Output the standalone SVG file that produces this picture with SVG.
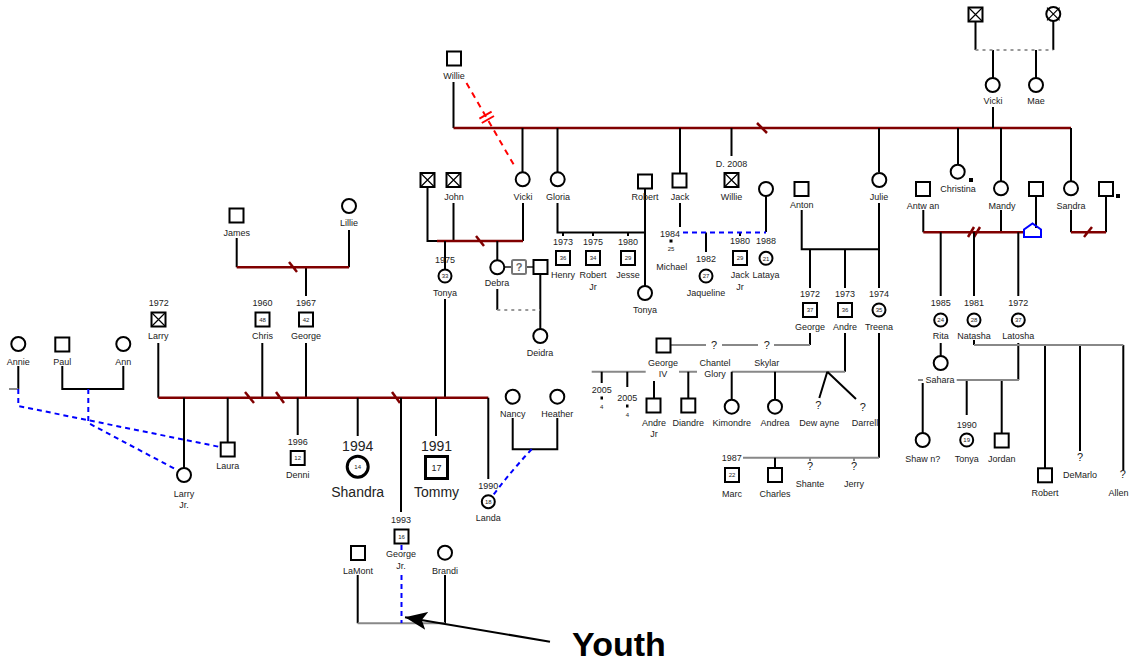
<svg xmlns="http://www.w3.org/2000/svg" width="1130" height="665" viewBox="0 0 1130 665">
<defs>
<style>
.k{stroke:#000;stroke-width:2;fill:none}
.rd{stroke:#800000;stroke-width:2.5;fill:none}
.gy{stroke:#888;stroke-width:2;fill:none}
.gd{stroke:#999;stroke-width:2;fill:none;stroke-dasharray:3,4}
.bd{stroke:#0000ff;stroke-width:2;fill:none;stroke-dasharray:5,4}
.s{fill:#fff;stroke:#000;stroke-width:2}
.x{stroke:#000;stroke-width:1.2}
text{font-family:"Liberation Sans",Arial,sans-serif;font-size:9px;text-anchor:middle;fill:#222}
.a{font-size:6px}
.big{font-size:14px}
</style>
<marker id="ah" markerUnits="userSpaceOnUse" markerWidth="24" markerHeight="18" refX="22" refY="9" orient="auto">
<path d="M0,0 L22,9 L0,18 L5,9 Z" fill="#000"/>
</marker>
</defs>
<rect width="1130" height="665" fill="#fff"/>
<g id="connectors">
<path class="k" d="M453.5,82V128"/>
<path class="rd" d="M453.5,128H1071"/>
<path class="rd" d="M757,123L767,133"/>
<path class="k" d="M522.5,128V172M557.5,128V172M680,128V173M731.5,128V156M879,128V172M958,128V164M1001,128V181M1071,128V181M993,107V128"/>
<path d="M466.5,83L514.5,166" stroke="#f00" stroke-width="2" stroke-dasharray="6,5" fill="none"/>
<path d="M479.4,118.6L491.6,111.6M481.8,123L494,116" stroke="#f00" stroke-width="2"/>
<path class="k" d="M975.5,22V50M1053.3,21V50M993,50V78M1036,50V78"/>
<path class="gd" d="M975.5,50H1053.3"/>
<path class="k" d="M427.5,188V241H437M453.5,203V241M523,203V241"/>
<path class="rd" d="M437,241H523M476,236L484,246"/>
<path class="k" d="M445,241V269M445,299V397.7M497.3,241V260M497.3,289V310M540.3,274V329"/>
<path class="gd" d="M497.3,310H540"/>
<path stroke="#555" stroke-width="2" d="M504,267H512M526,267H533"/>
<path class="k" d="M557.5,203V232.5H645M645,188V286M563,232.5V236M593,232.5V236M628,232.5V236"/>
<path class="k" d="M680,203V227M766,196V232M706,232.5V252M740,232.5V236"/>
<path class="bd" d="M683,232.5H766"/>
<path class="k" d="M801.7,210V249.3H879M879,203V288M810,249.3V288M845,249.3V288"/>
<path class="k" d="M810,333V345M845,333V371.7M879,333V457.7"/>
<path class="gy" d="M671,345H706M722,345H758M774,345H810"/>
<path class="gy" d="M591.7,371.7H645.7M679,371.7H697M731.7,371.7H845"/>
<path class="k" d="M601.7,371.7V383M627.3,371.7V387M654,381V398M688.3,371.7V398M731.7,371.7V399M775,371.7V399M827.3,371.7L819.3,398M827.3,371.7L856,399"/>
<path class="gy" d="M743,457.7H879M810,457.7V461M854,457.7V461"/>
<path class="k" d="M775,457.7V468"/>
<path class="k" d="M923.3,210V232.3M1001,210V232.3M1036,197V228M1071,210V232.3M1106,197V232.3"/>
<path class="rd" d="M923.3,232.3H1024M1071,232.3H1106M968,237L974,227M974,237L980,227M1084,237L1092,227"/>
<path d="M1024,237V229.5L1032.5,223.5L1041,229.5V237Z" fill="none" stroke="#0000ff" stroke-width="2"/>
<path class="k" d="M940.7,232.3V296M974,232.3V296M1018.3,232.3V296"/>
<path class="k" d="M940.7,343V356M1018.3,343V380M922.7,383V433M966.7,380V415M1001.7,380V433M1045,345V468M1080,345V451M1123.3,345V470M974,340V345"/>
<path class="gy" d="M956.7,380H1019M918,380H923M974,345H1123.3"/>
<path class="k" d="M236.7,238V267.3M349,230V267.3M306,267.3V296"/>
<path class="rd" d="M236.7,267.3H349M289,262L297,272"/>
<path class="k" d="M158.3,343V397.7M262.3,343V397.7M306,343V397.7"/>
<path class="rd" d="M158.3,397.7H488.3M245,392L254,403M276,392L284,403M392,392L400,403"/>
<path class="k" d="M184,397.7V468M227.7,397.7V442M297.7,397.7V435M357.7,397.7V436M401,397.7V512M436,397.7V436M488.3,397.7V479"/>
<path class="k" d="M62.3,366V389H123.3V366M18.3,366V389"/>
<path class="gy" d="M9,389H18.3"/>
<path class="bd" d="M18.3,389V406L220,447M88.3,389V423L177,470"/>
<path class="k" d="M512.7,418V449.3H557.3V418"/>
<path class="bd" d="M531.7,449.3Q512,470 493.3,495"/>
<path class="k" d="M357.7,575V623.3M445,575V623.3"/>
<path class="gy" d="M357.7,623.3H445"/>
<path class="bd" d="M401.5,545V551M401.5,575V623"/>
<path d="M550,641.7L405,617.3" stroke="#000" stroke-width="2" marker-end="url(#ah)"/>
</g>
<g id="willie-top"><rect class="s" x="447" y="51.5" width="14" height="14"/><text x="454" y="79">Willie</text></g>
<g id="vicki-a"><circle class="s" cx="522.7" cy="179.3" r="7"/><text x="523" y="200">Vicki</text></g>
<g id="gloria"><circle class="s" cx="557.7" cy="179.3" r="7"/><text x="558" y="200">Gloria</text></g>
<g id="jack"><rect class="s" x="672.5" y="173.5" width="14" height="14"/><text x="680" y="200">Jack</text></g>
<g id="willie-d"><text x="731.5" y="166.5">D. 2008</text><rect class="s" x="724.5" y="173" width="14" height="14"/><path class="x" d="M724.5,173L738.5,187M738.5,173L724.5,187"/><text x="731.5" y="200">Willie</text></g>
<g id="julie"><circle class="s" cx="879.3" cy="180" r="7"/><text x="879" y="200">Julie</text></g>
<g id="christina"><circle class="s" cx="957.7" cy="171.7" r="7"/><rect x="969" y="178" width="4" height="4" fill="#000"/><text x="958" y="191.5">Christina</text></g>
<g id="mandy"><circle class="s" cx="1001" cy="188.3" r="7"/><text x="1002" y="209">Mandy</text></g>
<g id="sandra"><circle class="s" cx="1071" cy="188.3" r="7"/><text x="1071" y="209">Sandra</text></g>
<g id="vicki-b"><circle class="s" cx="992.7" cy="85" r="7"/><text x="993" y="104">Vicki</text></g>
<g id="mae"><circle class="s" cx="1036" cy="85" r="7"/><text x="1036" y="104">Mae</text></g>
<g id="ggf"><rect class="s" x="968.5" y="7.5" width="14" height="14"/><path class="x" d="M968.5,7.5L982.5,21.5M982.5,7.5L968.5,21.5"/></g>
<g id="ggm"><circle class="s" cx="1053.3" cy="14" r="7"/><path class="x" d="M1047,7.7L1059.6,20.3M1059.6,7.7L1047,20.3"/></g>
<g id="antwan"><rect class="s" x="916" y="182" width="14" height="14"/><text x="923" y="209">Antw an</text></g>
<g id="mandy-partner"><rect class="s" x="1029" y="182" width="14" height="14"/></g>
<g id="sandra-partner"><rect class="s" x="1099" y="182" width="14" height="14"/><rect x="1116" y="194" width="4" height="4" fill="#000"/></g>
<g id="robert"><rect class="s" x="638" y="174.5" width="14" height="14"/><text x="645" y="200">Robert</text></g>
<g id="lataya-mother"><circle class="s" cx="766" cy="189" r="7"/></g>
<g id="anton"><rect class="s" x="794.5" y="182" width="14" height="14"/><text x="801.7" y="208">Anton</text></g>
<g id="unknown-crossed"><rect class="s" x="420.5" y="173" width="14" height="14"/><path class="x" d="M420.5,173L434.5,187M434.5,173L420.5,187"/></g>
<g id="john"><rect class="s" x="446.5" y="173" width="14" height="14"/><path class="x" d="M446.5,173L460.5,187M460.5,173L446.5,187"/><text x="454" y="200">John</text></g>
<g id="tonya-a"><text x="445" y="263">1975</text><circle class="s" cx="445" cy="276" r="6.5"/><text class="a" x="445" y="278">33</text><text x="445" y="296">Tonya</text></g>
<g id="debra"><circle class="s" cx="497.3" cy="267.3" r="7"/><text x="497" y="286">Debra</text></g>
<g id="unknown-q"><rect x="512" y="260" width="14" height="14" rx="1.5" fill="#fff" stroke="#777" stroke-width="2"/><text x="519" y="271" style="font-weight:bold;font-size:11px;fill:#666">?</text></g>
<g id="debra-partner"><rect class="s" x="533.5" y="260" width="14" height="14"/></g>
<g id="deidra"><circle class="s" cx="540.3" cy="336" r="7"/><text x="540" y="356">Deidra</text></g>
<g id="henry"><text x="563" y="245">1973</text><rect class="s" x="556" y="251" width="14" height="14"/><text class="a" x="563" y="260">36</text><text x="563" y="278">Henry</text></g>
<g id="robert-jr"><text x="593" y="245">1975</text><rect class="s" x="586" y="251" width="14" height="14"/><text class="a" x="593" y="260">34</text><text x="593" y="278">Robert</text><text x="593" y="290">Jr</text></g>
<g id="jesse"><text x="628" y="245">1980</text><rect class="s" x="621" y="251" width="14" height="14"/><text class="a" x="628" y="260">29</text><text x="628" y="278">Jesse</text></g>
<g id="tonya-b"><circle class="s" cx="645" cy="293" r="7"/><text x="645" y="313">Tonya</text></g>
<g id="michael"><text x="670" y="236.5">1984</text><rect x="669.5" y="239.5" width="3" height="3" fill="#000"/><text class="a" x="671" y="251">25</text><text x="671.7" y="270">Michael</text></g>
<g id="jaqueline"><text x="706" y="262">1982</text><circle class="s" cx="706" cy="276" r="6.5"/><text class="a" x="706" y="278">27</text><text x="706" y="296">Jaqueline</text></g>
<g id="jack-jr"><text x="740" y="244">1980</text><rect class="s" x="733" y="251" width="14" height="14"/><text class="a" x="740" y="260">29</text><text x="740" y="278">Jack</text><text x="740" y="290">Jr</text></g>
<g id="lataya"><text x="766" y="244">1988</text><circle class="s" cx="766" cy="258.3" r="6.5"/><text class="a" x="766" y="260.5">21</text><text x="766" y="278">Lataya</text></g>
<g id="george-a"><text x="810" y="296.5">1972</text><rect class="s" x="803" y="303" width="14" height="14"/><text class="a" x="810" y="312">37</text><text x="810" y="330">George</text></g>
<g id="andre"><text x="845" y="296.5">1973</text><rect class="s" x="838" y="303" width="14" height="14"/><text class="a" x="845" y="312">36</text><text x="845" y="330">Andre</text></g>
<g id="treena"><text x="879" y="296.5">1974</text><circle class="s" cx="879" cy="310" r="6.5"/><text class="a" x="879" y="312">35</text><text x="879" y="330">Treena</text></g>
<g id="george-iv"><rect class="s" x="656.5" y="338.5" width="14" height="14"/><text x="663" y="365.5">George</text><text x="663" y="377">IV</text></g>
<g id="chantel"><text x="714" y="348.5" style="font-size:11px">?</text><text x="715" y="365.5">Chantel</text><text x="715" y="377">Glory</text></g>
<g id="skylar"><text x="766.7" y="348.5" style="font-size:11px">?</text><text x="766.7" y="365.5">Skylar</text></g>
<g id="child-2005a"><text x="601.7" y="393">2005</text><rect x="600.5" y="396.5" width="2.5" height="3" fill="#000"/><text class="a" x="601.7" y="409">4</text></g>
<g id="child-2005b"><text x="627.3" y="400.7">2005</text><rect x="626" y="404.5" width="2.5" height="3" fill="#000"/><text class="a" x="627.3" y="417">4</text></g>
<g id="andre-jr"><rect class="s" x="646.5" y="398.5" width="14" height="14"/><text x="654" y="426">Andre</text><text x="654" y="437">Jr</text></g>
<g id="diandre"><rect class="s" x="681.3" y="398.5" width="14" height="14"/><text x="688.3" y="426">Diandre</text></g>
<g id="kimondre"><circle class="s" cx="731.7" cy="406.7" r="7"/><text x="731.7" y="426">Kimondre</text></g>
<g id="andrea"><circle class="s" cx="775" cy="406.7" r="7"/><text x="775" y="426">Andrea</text></g>
<g id="dewayne"><text x="818.3" y="409" style="font-size:11px">?</text><text x="819.3" y="426">Dew ayne</text></g>
<g id="darrell"><text x="862.7" y="410.5" style="font-size:11px">?</text><text x="865" y="426">Darrell</text></g>
<g id="marc"><text x="731.7" y="461">1987</text><rect class="s" x="725" y="468" width="14" height="14"/><text class="a" x="732" y="477">22</text><text x="732" y="496.5">Marc</text></g>
<g id="charles"><rect class="s" x="768" y="468" width="14" height="14"/><text x="775" y="496.5">Charles</text></g>
<g id="shante"><text x="810" y="470" style="font-size:11px">?</text><text x="810" y="487">Shante</text></g>
<g id="jerry"><text x="854" y="470" style="font-size:11px">?</text><text x="854" y="487">Jerry</text></g>
<g id="rita"><text x="940.7" y="305.5">1985</text><circle class="s" cx="940.7" cy="320" r="6.5"/><text class="a" x="940.7" y="322">24</text><text x="940.7" y="339">Rita</text></g>
<g id="natasha"><text x="974" y="305.5">1981</text><circle class="s" cx="974" cy="320" r="6.5"/><text class="a" x="974" y="322">28</text><text x="974" y="339">Natasha</text></g>
<g id="latosha"><text x="1018.3" y="305.5">1972</text><circle class="s" cx="1018.3" cy="320" r="6.5"/><text class="a" x="1018.3" y="322">37</text><text x="1018.3" y="339">Latosha</text></g>
<g id="sahara"><circle class="s" cx="940.7" cy="363" r="7"/><text x="940" y="383">Sahara</text></g>
<g id="shawn"><circle class="s" cx="922.7" cy="440" r="7"/><text x="922.7" y="461.5">Shaw n?</text></g>
<g id="tonya-c"><text x="966.7" y="427.5">1990</text><circle class="s" cx="966.7" cy="440" r="6.5"/><text class="a" x="966.7" y="442">19</text><text x="966.7" y="461.5">Tonya</text></g>
<g id="jordan"><rect class="s" x="994.7" y="433.5" width="14" height="14"/><text x="1001.7" y="461.5">Jordan</text></g>
<g id="robert-b"><rect class="s" x="1038" y="468.3" width="14" height="14"/><text x="1045" y="495.5">Robert</text></g>
<g id="demarlo"><text x="1080" y="461" style="font-size:11px">?</text><text x="1080" y="478">DeMarlo</text></g>
<g id="allen"><text x="1122.7" y="478" style="font-size:11px">?</text><text x="1128.5" y="495.5" style="text-anchor:end">Allen</text></g>
<g id="james"><rect class="s" x="229.5" y="208.5" width="14" height="14"/><text x="236.7" y="235.5">James</text></g>
<g id="lillie"><circle class="s" cx="349" cy="206" r="7"/><text x="349" y="226">Lillie</text></g>
<g id="larry"><text x="158.7" y="306">1972</text><rect class="s" x="151.5" y="312.5" width="14" height="14"/><path class="x" d="M151.5,312.5L165.5,326.5M165.5,312.5L151.5,326.5"/><text x="158.3" y="339">Larry</text></g>
<g id="chris"><text x="262.5" y="306">1960</text><rect class="s" x="255.5" y="312.5" width="14" height="14"/><text class="a" x="262.5" y="321.5">48</text><text x="262.5" y="339">Chris</text></g>
<g id="george-b"><text x="306" y="306">1967</text><rect class="s" x="299" y="312.5" width="14" height="14"/><text class="a" x="306" y="321.5">42</text><text x="306" y="339">George</text></g>
<g id="annie"><circle class="s" cx="18.3" cy="344" r="7"/><text x="18.3" y="365">Annie</text></g>
<g id="paul"><rect class="s" x="55.3" y="337.5" width="14" height="14"/><text x="62.3" y="365">Paul</text></g>
<g id="ann"><circle class="s" cx="123.3" cy="344" r="7"/><text x="123.3" y="365">Ann</text></g>
<g id="larry-jr"><circle class="s" cx="184" cy="475" r="7"/><text x="184" y="496.5">Larry</text><text x="184" y="508">Jr.</text></g>
<g id="laura"><rect class="s" x="220.7" y="442.5" width="14" height="14"/><text x="227.7" y="469">Laura</text></g>
<g id="denni"><text x="297.7" y="445">1996</text><rect class="s" x="290.7" y="451" width="14" height="14"/><text class="a" x="297.7" y="460">12</text><text x="297.7" y="478">Denni</text></g>
<g id="shandra"><text class="big" x="357.7" y="451">1994</text><circle cx="357.7" cy="466.7" r="10.5" fill="#fff" stroke="#000" stroke-width="3"/><text class="a" x="357.7" y="469">14</text><text class="big" x="357.7" y="496.5">Shandra</text></g>
<g id="tommy"><text class="big" x="436.5" y="451">1991</text><rect x="425.5" y="456.5" width="22" height="22" fill="#fff" stroke="#000" stroke-width="3"/><text x="436.5" y="470.5">17</text><text class="big" x="436.5" y="496.5">Tommy</text></g>
<g id="george-jr"><text x="401" y="522.5">1993</text><rect class="s" x="394.5" y="529.5" width="14" height="14"/><text class="a" x="401.5" y="538.5">16</text><text x="401" y="556.5">George</text><text x="401" y="569">Jr.</text></g>
<g id="landa"><text x="488.3" y="489">1990</text><circle class="s" cx="488.3" cy="501.7" r="6.5"/><text class="a" x="488.3" y="504">18</text><text x="488.3" y="521">Landa</text></g>
<g id="nancy"><circle class="s" cx="512.7" cy="396.7" r="7"/><text x="512.7" y="416.5">Nancy</text></g>
<g id="heather"><circle class="s" cx="557.3" cy="396.7" r="7"/><text x="557.3" y="416.5">Heather</text></g>
<g id="lamont"><rect class="s" x="351" y="546" width="14" height="14"/><text x="358" y="574">LaMont</text></g>
<g id="brandi"><circle class="s" cx="445" cy="552.7" r="7"/><text x="445" y="574">Brandi</text></g>
<g id="youth-label"><text x="619" y="656" style="font-size:34px;font-weight:bold;fill:#000">Youth</text></g>
</svg>
